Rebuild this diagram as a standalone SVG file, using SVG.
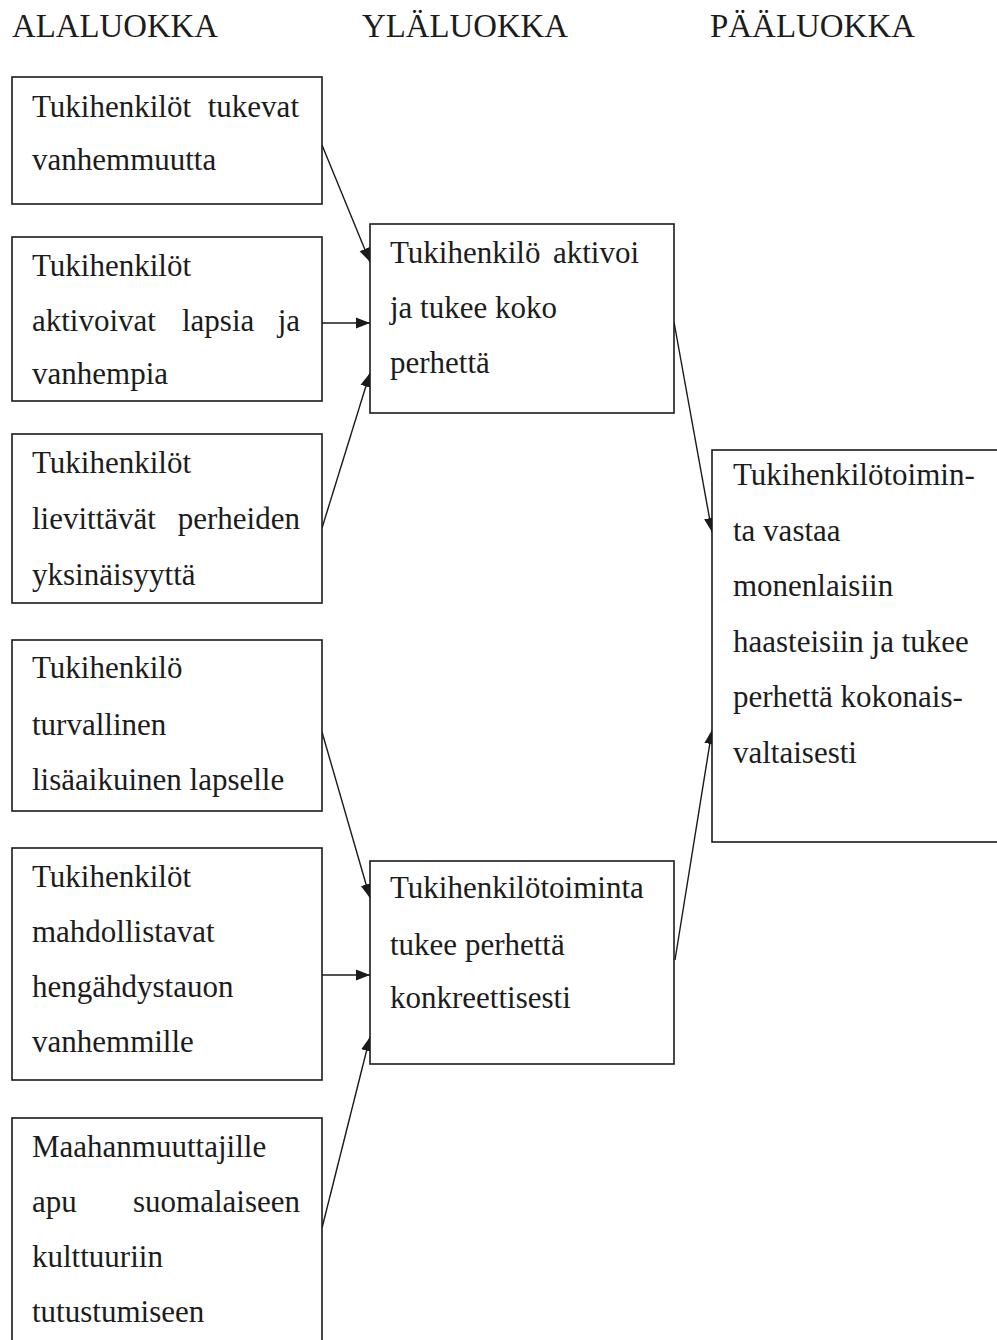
<svg xmlns="http://www.w3.org/2000/svg" width="997" height="1340" viewBox="0 0 997 1340">
<style>
  .box { fill: #ffffff; stroke: #1a1a1a; stroke-width: 1.6; }
  .t { font-size: 31px; fill: #1c1c1c; }
  .h { font-size: 33px; fill: #1c1c1c; }
  .e { text-anchor: end; }
  .conn { stroke: #1a1a1a; stroke-width: 1.4; fill: none; marker-end: url(#arrow); }
</style>
<defs>
  <marker id="arrow" markerUnits="userSpaceOnUse" markerWidth="15" markerHeight="12" refX="14" refY="6" orient="auto">
    <path d="M0,0.5 L14,6 L0,11.5 Z" fill="#1a1a1a"/>
  </marker>
</defs>
<rect x="0" y="0" width="997" height="1340" fill="#ffffff"/>

<g id="headers" font-family="Liberation Serif">
  <text class="h" x="12" y="37" textLength="206" lengthAdjust="spacingAndGlyphs">ALALUOKKA</text>
  <text class="h" x="362" y="37" textLength="206" lengthAdjust="spacingAndGlyphs">YLÄLUOKKA</text>
  <text class="h" x="710" y="37" textLength="205" lengthAdjust="spacingAndGlyphs">PÄÄLUOKKA</text>
</g>

<g id="connectors">
  <line class="conn" x1="322" y1="145" x2="370" y2="262"/>
  <line class="conn" x1="322" y1="323" x2="370" y2="323"/>
  <line class="conn" x1="322" y1="528" x2="370" y2="373"/>
  <line class="conn" x1="322" y1="732" x2="370" y2="898"/>
  <line class="conn" x1="322" y1="975" x2="370" y2="975"/>
  <line class="conn" x1="322" y1="1228" x2="370" y2="1037"/>
  <line class="conn" x1="674" y1="322" x2="712" y2="532"/>
  <line class="conn" x1="675" y1="960" x2="712" y2="730"/>
</g>

<g id="sub1" font-family="Liberation Serif">
  <rect class="box" x="12" y="77" width="310" height="127"/>
  <text class="t" x="32" y="117">Tukihenkilöt</text>
  <text class="t e" x="299" y="117">tukevat</text>
  <text class="t" x="32" y="170">vanhemmuutta</text>
</g>

<g id="sub2" font-family="Liberation Serif">
  <rect class="box" x="12" y="237" width="310" height="164"/>
  <text class="t" x="32" y="276">Tukihenkilöt</text>
  <text class="t" x="32" y="331">aktivoivat</text>
  <text class="t" x="182" y="331">lapsia</text>
  <text class="t e" x="300" y="331">ja</text>
  <text class="t" x="32" y="384">vanhempia</text>
</g>

<g id="sub3" font-family="Liberation Serif">
  <rect class="box" x="12" y="434" width="310" height="169"/>
  <text class="t" x="32" y="473">Tukihenkilöt</text>
  <text class="t" x="32" y="529">lievittävät</text>
  <text class="t e" x="300" y="529">perheiden</text>
  <text class="t" x="32" y="585">yksinäisyyttä</text>
</g>

<g id="sub4" font-family="Liberation Serif">
  <rect class="box" x="12" y="640" width="310" height="171"/>
  <text class="t" x="32" y="678">Tukihenkilö</text>
  <text class="t" x="32" y="735">turvallinen</text>
  <text class="t" x="32" y="790">lisäaikuinen lapselle</text>
</g>

<g id="sub5" font-family="Liberation Serif">
  <rect class="box" x="12" y="848" width="310" height="232"/>
  <text class="t" x="32" y="887">Tukihenkilöt</text>
  <text class="t" x="32" y="942">mahdollistavat</text>
  <text class="t" x="32" y="997">hengähdystauon</text>
  <text class="t" x="32" y="1052">vanhemmille</text>
</g>

<g id="sub6" font-family="Liberation Serif">
  <rect class="box" x="12" y="1118" width="310" height="240"/>
  <text class="t" x="32" y="1157">Maahanmuuttajille</text>
  <text class="t" x="32" y="1212">apu</text>
  <text class="t e" x="300" y="1212">suomalaiseen</text>
  <text class="t" x="32" y="1267">kulttuuriin</text>
  <text class="t" x="32" y="1322">tutustumiseen</text>
</g>

<g id="upper1" font-family="Liberation Serif">
  <rect class="box" x="370" y="224" width="304" height="189"/>
  <text class="t" x="390" y="263">Tukihenkilö</text>
  <text class="t" x="553" y="263">aktivoi</text>
  <text class="t" x="390" y="318">ja tukee koko</text>
  <text class="t" x="390" y="373">perhettä</text>
</g>

<g id="upper2" font-family="Liberation Serif">
  <rect class="box" x="370" y="861" width="304" height="203"/>
  <text class="t" x="390" y="898">Tukihenkilötoiminta</text>
  <text class="t" x="390" y="955">tukee perhettä</text>
  <text class="t" x="390" y="1008">konkreettisesti</text>
</g>

<g id="main" font-family="Liberation Serif">
  <rect class="box" x="712" y="450" width="300" height="392"/>
  <text class="t" x="733" y="485">Tukihenkilötoimin-</text>
  <text class="t" x="733" y="541">ta vastaa</text>
  <text class="t" x="733" y="596">monenlaisiin</text>
  <text class="t" x="733" y="652">haasteisiin ja tukee</text>
  <text class="t" x="733" y="707">perhettä kokonais-</text>
  <text class="t" x="733" y="763">valtaisesti</text>
</g>
</svg>
